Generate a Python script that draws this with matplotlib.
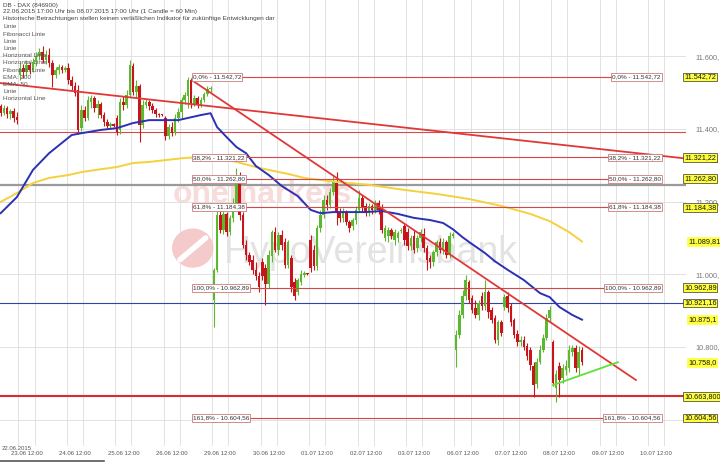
import matplotlib
matplotlib.use("Agg")
import matplotlib.pyplot as plt
import matplotlib.transforms as mtransforms
from matplotlib.lines import Line2D
from matplotlib.patches import Ellipse
import numpy as np

plt.rcParams['font.family'] = ['Liberation Sans', 'DejaVu Sans']

# DB - DAX, 60-min candles 22.06.2015 17:00 .. 08.07.2015 17:00 (15 candles a day, 08-22 Uhr)
opens = [11463, 11443, 11457, 11441, 11449, 11432,
         11548, 11567, 11556, 11575, 11562, 11584, 11600, 11611, 11589, 11603, 11581, 11548, 11562, 11570, 11562,
         11567, 11534, 11518, 11507, 11402, 11452, 11430, 11474, 11485, 11457, 11468, 11438, 11419, 11408, 11413,
         11430, 11396, 11474, 11465, 11493, 11573, 11501, 11518, 11411, 11465, 11474, 11463, 11452, 11441, 11438,
         11430, 11380, 11405, 11388, 11430, 11446, 11479, 11490, 11535, 11468, 11485, 11465, 11479, 11496, 11509,
         10929, 11012, 11163, 11122, 11166, 11116, 11155, 11191, 11265, 11163, 11081, 11053, 11039, 11012, 10995,
         11033, 11017, 10973, 11050, 11116, 11067, 11108, 11089, 11025, 11044, 10979, 10951, 10979, 10998, 11001,
         11094, 11067, 11022, 11127, 11163, 11204, 11191, 11226, 11251, 11171, 11155, 11171, 11144, 11133, 11149,
         11177, 11210, 11188, 11168, 11188, 11177, 11196, 11182, 11100, 11105, 11122, 11094, 11100, 11119, 11133,
         11116, 11078, 11105, 11072, 11100, 11111, 11072, 11044, 11033, 11061, 11089, 11067, 11089, 11053, 11105,
         10792, 10833, 10888, 10940, 10979, 10935, 10907, 10888, 10940, 10913, 10951, 10902, 10880, 10819, 10869,
         10910, 10940, 10913, 10874, 10836, 10814, 10819, 10803, 10792, 10748, 10698, 10759, 10792, 10825, 10880,
         10814, 10687, 10748, 10715, 10737, 10742, 10786, 10797, 10742, 10792]
highs = [11468, 11465, 11463, 11454, 11457, 11446,
         11584, 11578, 11589, 11584, 11595, 11611, 11622, 11628, 11617, 11622, 11589, 11570, 11578, 11575, 11573,
         11581, 11545, 11529, 11521, 11465, 11463, 11490, 11493, 11490, 11479, 11474, 11446, 11427, 11419, 11416,
         11438, 11485, 11490, 11507, 11589, 11581, 11534, 11523, 11479, 11482, 11479, 11471, 11457, 11443, 11441,
         11435, 11413, 11419, 11441, 11457, 11487, 11501, 11543, 11540, 11493, 11490, 11487, 11501, 11518, 11518,
         11017, 11182, 11182, 11177, 11171, 11163, 11210, 11292, 11281, 11171, 11094, 11061, 11053, 11033, 11006,
         11044, 11028, 11067, 11122, 11130, 11116, 11122, 11100, 11094, 11053, 10990, 10990, 11012, 11009, 11003,
         11108, 11081, 11136, 11177, 11218, 11218, 11237, 11270, 11281, 11182, 11182, 11177, 11149, 11155, 11188,
         11232, 11218, 11196, 11196, 11193, 11204, 11204, 11193, 11136, 11130, 11127, 11125, 11119, 11127, 11138,
         11127, 11108, 11122, 11108, 11125, 11127, 11081, 11053, 11067, 11094, 11100, 11100, 11094, 11116, 11116,
         10847, 10902, 10957, 10998, 10984, 10943, 10929, 10929, 10951, 10984, 10957, 10910, 10888, 10874, 10874,
         10946, 10951, 10921, 10880, 10847, 10830, 10830, 10811, 10800, 10759, 10770, 10805, 10836, 10891, 10913,
         10819, 10737, 10759, 10753, 10764, 10805, 10805, 10805, 10803, 10800]
lows = [11435, 11438, 11430, 11427, 11419, 11413,
        11534, 11540, 11545, 11551, 11556, 11573, 11589, 11581, 11578, 11570, 11515, 11540, 11551, 11553, 11556,
        11523, 11507, 11490, 11391, 11394, 11421, 11424, 11457, 11446, 11430, 11430, 11408, 11402, 11402, 11405,
        11383, 11385, 11452, 11457, 11487, 11493, 11485, 11363, 11402, 11457, 11452, 11443, 11432, 11432, 11435,
        11369, 11372, 11380, 11383, 11419, 11430, 11468, 11457, 11457, 11463, 11457, 11460, 11474, 11490, 11501,
        10855, 11006, 11113, 11111, 11105, 11108, 11144, 11177, 11149, 11072, 11039, 11025, 11001, 10984, 10951,
        10984, 10915, 10962, 11033, 11061, 11053, 11067, 11017, 11017, 10951, 10929, 10943, 10970, 10992, 10998,
        11006, 11012, 11012, 11116, 11155, 11177, 11182, 11218, 11136, 11144, 11144, 11136, 11116, 11122, 11138,
        11171, 11171, 11160, 11160, 11166, 11168, 11166, 11113, 11092, 11089, 11097, 11081, 11089, 11113, 11081,
        11067, 11067, 11058, 11061, 11089, 11061, 11012, 11017, 11022, 11050, 11058, 11056, 11044, 11044, 11100,
        10745, 10825, 10880, 10929, 10921, 10893, 10880, 10874, 10902, 10902, 10880, 10866, 10811, 10805, 10830,
        10902, 10896, 10858, 10825, 10803, 10803, 10792, 10764, 10737, 10662, 10687, 10753, 10786, 10819, 10869,
        10693, 10649, 10662, 10701, 10723, 10731, 10775, 10731, 10723, 10750]
closes = [11443, 11457, 11441, 11449, 11430, 11424,
          11567, 11556, 11575, 11562, 11584, 11600, 11611, 11589, 11603, 11581, 11548, 11562, 11570, 11562, 11567,
          11534, 11518, 11498, 11396, 11452, 11430, 11479, 11485, 11457, 11468, 11438, 11419, 11408, 11413, 11408,
          11391, 11474, 11465, 11493, 11575, 11501, 11518, 11411, 11465, 11474, 11463, 11452, 11441, 11438, 11437,
          11380, 11405, 11388, 11430, 11446, 11479, 11493, 11535, 11468, 11485, 11465, 11479, 11496, 11509, 11512,
          11012, 11163, 11122, 11166, 11116, 11155, 11191, 11273, 11163, 11081, 11053, 11033, 11012, 10995, 10965,
          10995, 10973, 11053, 11116, 11067, 11108, 11081, 11025, 11089, 10965, 10940, 10984, 11001, 11003, 11000,
          11017, 11022, 11127, 11163, 11204, 11191, 11226, 11254, 11171, 11155, 11171, 11144, 11127, 11149, 11177,
          11210, 11182, 11168, 11188, 11177, 11196, 11177, 11122, 11127, 11122, 11105, 11116, 11113, 11122, 11094,
          11078, 11100, 11067, 11100, 11116, 11072, 11039, 11033, 11061, 11089, 11067, 11089, 11053, 11105, 11111,
          10833, 10888, 10940, 10984, 10929, 10902, 10888, 10921, 10913, 10951, 10896, 10874, 10819, 10869, 10838,
          10937, 10907, 10869, 10833, 10814, 10819, 10800, 10775, 10750, 10695, 10759, 10792, 10825, 10880, 10902,
          10701, 10726, 10709, 10742, 10748, 10792, 10797, 10742, 10786, 10759]

day_labels = ["23.06", "24.06", "25.06", "26.06", "29.06", "30.06", "01.07",
              "02.07", "03.07", "06.07", "07.07", "08.07", "09.07", "10.07"]
first_day_start = 6      # candle index of 23.06 08:00
candles_per_day = 15

# EMA lines at candle positions
ema50_x = [0, 5, 10, 15, 22, 25, 31, 36, 41, 46, 51, 55, 62, 65, 67, 70, 73, 76, 79, 83, 87, 92,
           96, 99, 103, 108, 113, 118, 123, 128, 133, 137, 140, 143, 145, 150, 153, 157, 162, 167,
           170, 173, 177, 180]
ema50 = [11168, 11212, 11287, 11333, 11383, 11388, 11397, 11402, 11416, 11424, 11424, 11424, 11438,
         11443, 11405, 11377, 11350, 11333, 11298, 11273, 11243, 11215, 11177, 11168, 11171, 11171,
         11171, 11174, 11166, 11155, 11149, 11141, 11124, 11102, 11089, 11058, 11036, 11012, 10984,
         10948, 10937, 10910, 10888, 10875]
ema200_x = [0, 5, 10, 15, 21, 25, 31, 36, 41, 46, 51, 57, 62, 66, 73, 79, 83, 89, 94, 104, 114,
            125, 135, 145, 155, 164, 170, 176, 180]
ema200 = [11199, 11223, 11251, 11265, 11273, 11281, 11289, 11295, 11306, 11309, 11314, 11320, 11322,
          11322, 11309, 11295, 11287, 11276, 11265, 11254, 11246, 11232, 11221, 11207, 11188, 11166,
          11146, 11116, 11090]

fib_levels = [11542.72, 11321.22, 11262.80, 11184.38, 10962.89, 10604.56]
fib_names = ["0,0%", "38,2%", "50,0%", "61,8%", "100,0%", "161,8%"]
fib_from, fib_to = 59.2, 204.4

trend_long_x, trend_long_y = [-0.2, 221.8], [11526, 11309]
trend_steep_x, trend_steep_y = [59.2, 196.7], [11534, 10709]
trend_green_x, trend_green_y = [171, 191.1], [10695, 10758]

hline_red = 11390
hline_gray = 11245
hline_blue = 10921.16
hline_support = 10663.80

price_ticks = [10600, 10800, 11000, 11200, 11400, 11600]

right_labels = ["11.542,72", "11.321,22", "11.262,80", "11.184,38", "11.089,81", "10.962,89",
                "10.921,16", "10.875,1", "10.758,0", "10.663,800", "10.604,56"]
right_values = [11542.72, 11321.22, 11262.80, 11184.38, 11089.81, 10962.89,
                10921.16, 10875.1, 10758.0, 10663.80, 10604.56]
right_framed = [True, True, True, True, False, True, True, False, False, True, True]

legend_items = ["Linie", "Fibonacci Linie", "Linie", "Linie", "Horizontal Linie", "Horizontal Linie",
                "Fibonacci Linie", "EMA: 200", "EMA: 50", "Linie", "Horizontal Line"]


def de(v):
    s = f"{v:,.2f}"
    return s.replace(",", "X").replace(".", ",").replace("X", ".")


W, H = 720, 462
fig = plt.figure(figsize=(W / 100, H / 100), dpi=100)
ax = fig.add_axes([0, 16 / H, 686 / W, 446 / H])
ax.set_xlim(-0.2, 212.2)
ax.set_ylim(10527.5, 11754.5)
for s in ax.spines.values():
    s.set_visible(False)

# grid
ax.set_yticks(price_ticks)
ax.set_yticklabels([f"{p // 1000}.{p % 1000:03d}," for p in price_ticks])
ax.yaxis.tick_right()
ax.tick_params(axis='y', length=0, pad=7, labelsize=5.3, labelcolor='#777777')
ax.grid(axis='y', color='#dddddd', lw=0.6, zorder=0)
day_starts = [first_day_start + candles_per_day * k for k in range(len(day_labels))]
for ds in day_starts:
    ax.axvline(ds - 0.5, color='#dddddd', lw=0.6, zorder=0)
    ax.axvline(ds + 4.5, color='#dddddd', lw=0.6, zorder=0)
ax.set_xticks([ds + 2 for ds in day_starts])
ax.set_xticklabels([d + " 12:00" for d in day_labels])
ax.tick_params(axis='x', length=0, pad=3.5, labelsize=4.3, labelcolor='#555555')

# watermark
ax.text(53.3, 11196, "onemarkets", fontsize=23, fontweight='bold', color='#f8dcdc',
        ha='left', va='baseline', zorder=0.5)
ax.text(69, 11031, "HypoVereinsbank", fontsize=27, color='#e3e3e3',
        ha='left', va='baseline', zorder=0.5)
ax.add_patch(Ellipse((59.5, 11072), 12.4, 104, color='#f4caca', zorder=0.5))
ax.plot([55.5, 63.5], [11040, 11100], color='white', lw=4, solid_capstyle='round', zorder=0.6)

# horizontal lines
ax.axhline(hline_red, color='#d94a4a', lw=0.8, zorder=2)
ax.axhline(hline_gray, color='#9a9a9a', lw=1.6, zorder=2)
ax.axhline(hline_blue, color='#3344a8', lw=0.8, zorder=2)
ax.axhline(hline_support, color='#dd2a2a', lw=1.5, zorder=2)

# candles
x = np.arange(len(closes))
o = np.array(opens, float)
c = np.array(closes, float)
up = c >= o
cols = np.where(up, '#5cb82e', '#c8141a')
ax.vlines(x, lows, highs, colors=cols, lw=0.8, zorder=3)
ax.bar(x, np.maximum(np.abs(c - o), 2.5), bottom=np.minimum(o, c), width=0.8,
       color=cols, linewidth=0, zorder=4)

# EMAs
ax.plot(ema200_x, ema200, color='#f5d13c', lw=1.4, zorder=5)
ax.plot(ema50_x, ema50, color='#2b30b5', lw=1.4, zorder=5)

# Fibonacci
for lvl, name in zip(fib_levels, fib_names):
    ax.plot([fib_from, fib_to], [lvl, lvl], color='#d04848', lw=0.8, zorder=5)
    box = dict(boxstyle='square,pad=0.2', fc='white', ec='#cc7a7a', lw=0.6)
    ax.text(fib_from + 0.3, lvl, f"{name} - {de(lvl)}", fontsize=4.6, color='#333333',
            ha='left', va='center', bbox=box, zorder=7)
    ax.text(fib_to, lvl, f"{name} - {de(lvl)}", fontsize=4.6, color='#333333',
            ha='right', va='center', bbox=box, zorder=7)

# trend lines
ax.plot(trend_long_x, trend_long_y, color='#e03838', lw=1.3, zorder=6, clip_on=False)
ax.plot(trend_steep_x, trend_steep_y, color='#e03838', lw=1.3, zorder=6)
ax.plot(trend_green_x, trend_green_y, color='#5ee03a', lw=1.3, zorder=6)

# value labels at the right
tr = mtransforms.blended_transform_factory(fig.transFigure, ax.transData)
for txt, v, framed in zip(right_labels, right_values, right_framed):
    ax.text(684 / W if framed else 688 / W, v, txt, transform=tr, fontsize=5.2, color='#111111',
            ha='left', va='center', zorder=10, clip_on=False,
            bbox=dict(boxstyle='square,pad=0.12', fc='#ffff40',
                      ec='#333333' if framed else '#ffff40', lw=0.5))

# header and legend
fig.text(3 / W, 1 - 6 / H, "DB - DAX (846900)", fontsize=4.6, color='#444444', va='center')
fig.text(3 / W, 1 - 12 / H, "22.06.2015 17:00 Uhr bis 08.07.2015 17:00 Uhr (1 Candle = 60 Min)",
         fontsize=4.6, color='#444444', va='center')
fig.text(3 / W, 1 - 18.5 / H, "Historische Betrachtungen stellen keinen verläßlichen Indikator "
         "für zukünftige Entwicklungen dar", fontsize=4.6, color='#444444', va='center')
for k, item in enumerate(legend_items):
    fig.text(3 / W, 1 - (27 + 7.2 * k) / H, item, fontsize=4.6, color='#555555', va='center')

fig.text(2 / W, 1 - 449 / H, "22.06.2015", fontsize=4.3, color='#555555', va='center')
fig.add_artist(Line2D([0, 104 / W], [1 - 461 / H, 1 - 461 / H], color='#555555', lw=1.2))

fig.savefig('out.png', dpi=100)
